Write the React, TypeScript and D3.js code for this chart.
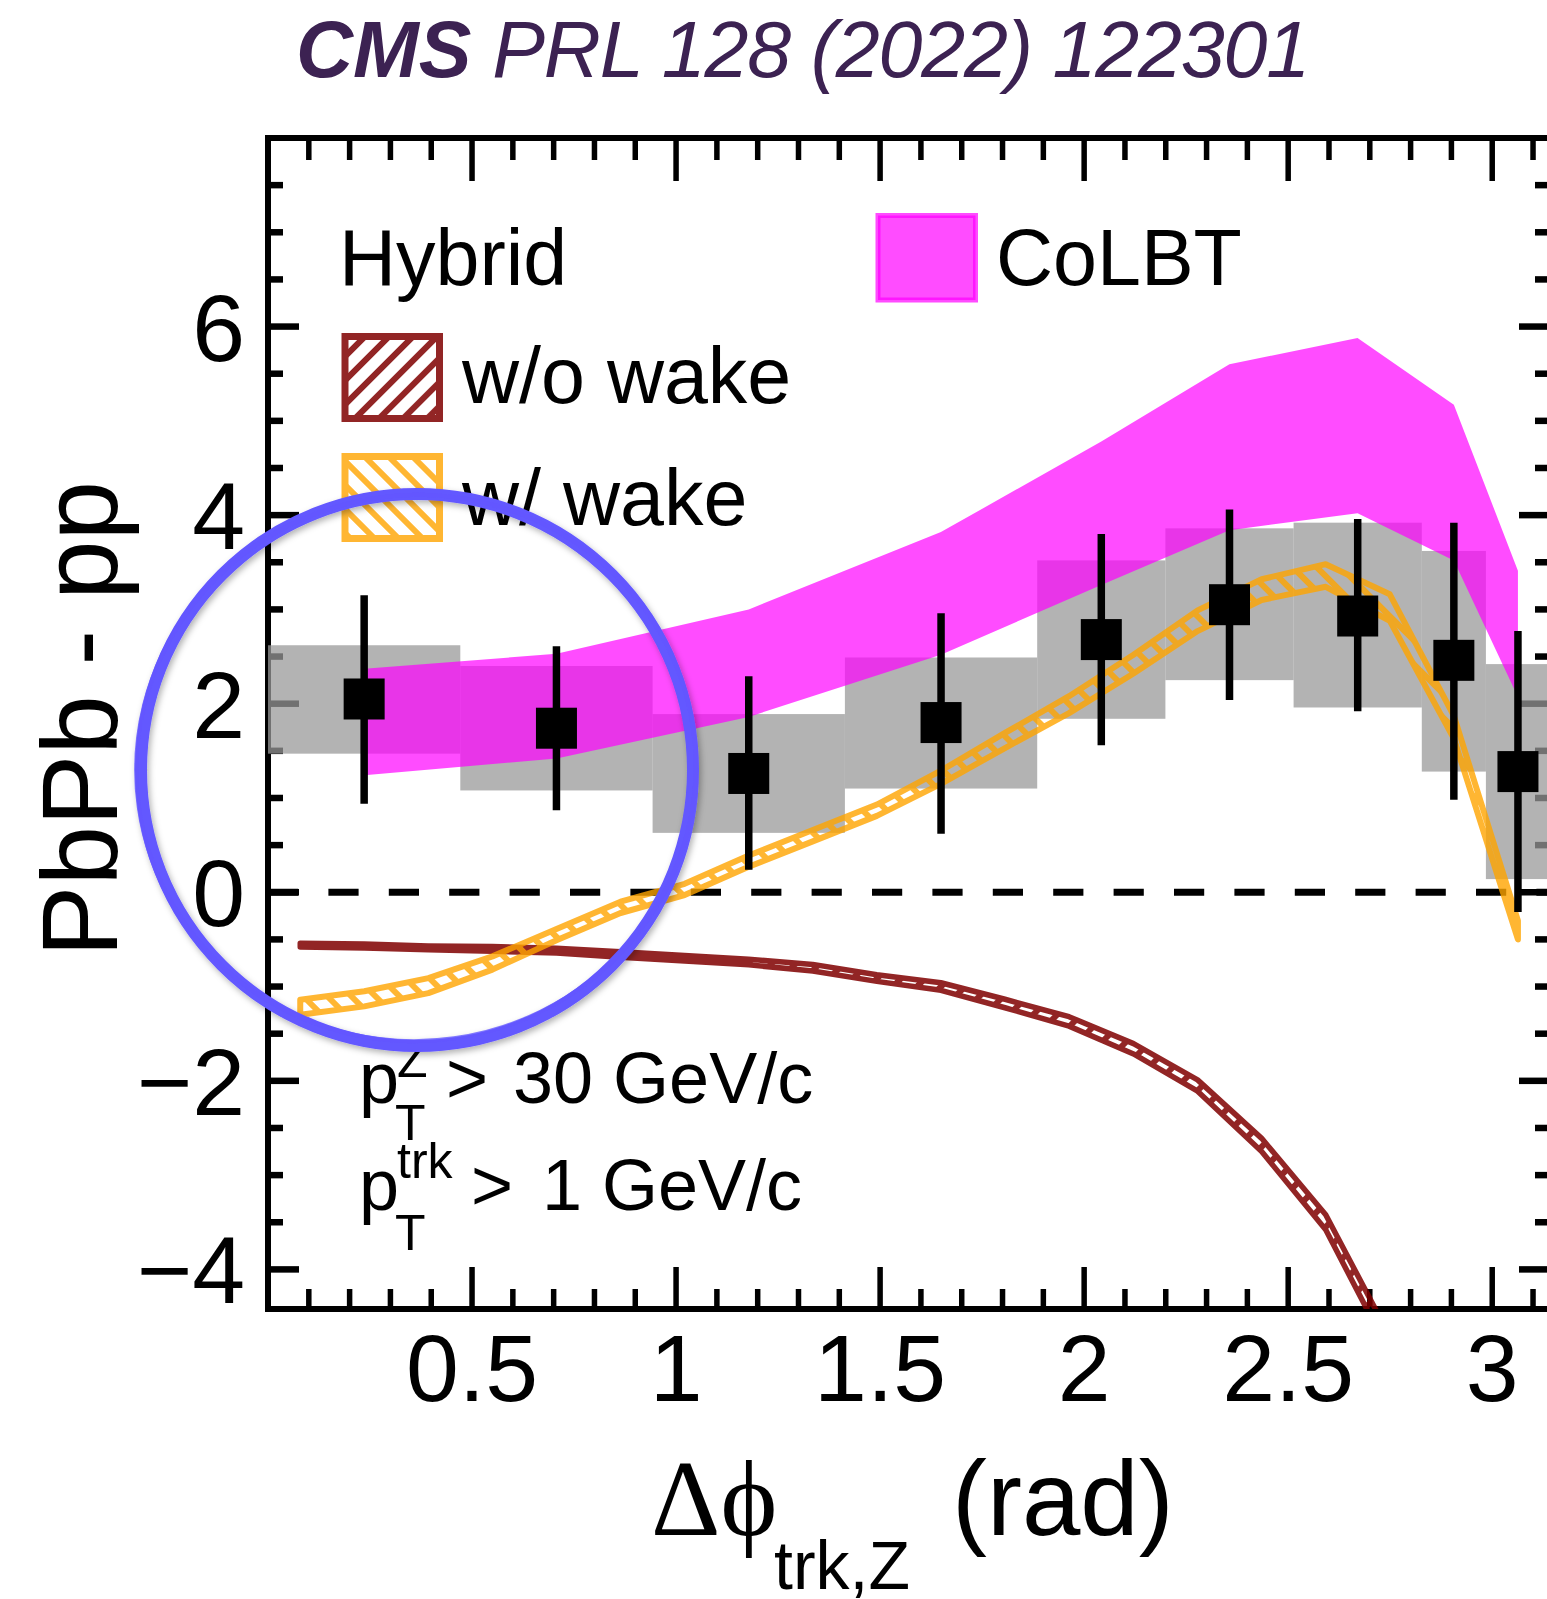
import React from 'react';
import * as d3 from 'd3';

const W = 1547;
const H = 1599;
const PI = Math.PI;

// measured bins, in units of pi/20
const binEdgeK = [0, 3, 6, 9, 12, 14, 16, 18, 19, 20];
const dataY = [2.05, 1.74, 1.26, 1.80, 2.68, 3.05, 2.93, 2.46, 1.28];
const statHi = [3.15, 2.61, 2.29, 2.96, 3.80, 4.06, 3.96, 3.92, 2.77];
const statLo = [0.94, 0.87, 0.24, 0.62, 1.56, 2.04, 1.92, 0.98, -0.21];
const sysHi = [2.62, 2.40, 1.89, 2.49, 3.52, 3.86, 3.92, 3.62, 2.42];
const sysLo = [1.47, 1.08, 0.63, 1.10, 1.84, 2.25, 1.96, 1.28, 0.14];

// CoLBT band at the bin centres
const colbtX = [0.236, 0.707, 1.178, 1.649, 2.042, 2.356, 2.670, 2.906, 3.063];
const colbtHi = [2.37, 2.53, 3.00, 3.82, 4.78, 5.60, 5.88, 5.17, 3.41];
const colbtLo = [1.24, 1.42, 1.86, 2.52, 3.26, 3.84, 4.02, 3.52, 2.07];

// Hybrid model
const hybX = [0.079, 0.236, 0.393, 0.550, 0.707, 0.864, 1.021, 1.178, 1.335, 1.492,
  1.649, 1.806, 1.963, 2.121, 2.278, 2.435, 2.592, 2.749, 2.906, 3.063];
const woWakeHi = [-0.54, -0.55, -0.57, -0.575, -0.595, -0.63, -0.67, -0.71, -0.765, -0.875,
  -0.96, -1.135, -1.32, -1.605, -1.99, -2.61, -3.42, -4.71];
const woWakeLo = [-0.58, -0.59, -0.61, -0.625, -0.645, -0.69, -0.73, -0.77, -0.835, -0.945,
  -1.04, -1.225, -1.42, -1.715, -2.11, -2.75, -3.58, -4.89];
const wWakeHi = [-1.14, -1.05, -0.91, -0.68, -0.39, -0.10, 0.09, 0.39, 0.66, 0.93,
  1.29, 1.69, 2.08, 2.52, 2.99, 3.32, 3.48, 3.16, 1.87, -0.30];
const wWakeLo = [-1.30, -1.21, -1.07, -0.82, -0.51, -0.22, -0.03, 0.27, 0.54, 0.81,
  1.15, 1.53, 1.90, 2.32, 2.77, 3.10, 3.24, 2.88, 1.63, -0.50];

const xMajor = [0.5, 1, 1.5, 2, 2.5, 3];
const yMajor = [-4, -2, 0, 2, 4, 6];

const sans = 'Liberation Sans, Arial, Helvetica, sans-serif';
const serif = 'Liberation Serif, DejaVu Serif, Times New Roman, serif';

const GRAY = 'rgba(152,152,152,0.74)';
const MAGENTA = 'rgba(255,0,255,0.7)';
const DARKRED = '#800000';
const ORANGE = '#ffa500';

export default function App() {
  const x = d3.scaleLinear().domain([0, PI]).range([268, 1550]);
  const y = d3.scaleLinear().domain([-4.42, 8]).range([1309, 138]);
  const [x0, x1] = x.range();
  const [yb, yt] = y.range();

  const xMinor = d3.range(1, 32).map(i => i / 10).filter(v => v < PI && Math.abs(v * 2 - Math.round(v * 2)) > 1e-6);
  const yMinor = d3.range(-8, 16).map(i => i / 2).filter(v => v % 2 !== 0 && v > -4.42 && v < 8);

  const edges = binEdgeK.map(k => (k * PI) / 20);
  const centers = edges.slice(0, -1).map((e, i) => (e + edges[i + 1]) / 2);

  const band = (xs: number[], lo: number[], hi: number[]) =>
    d3.area<number>()
      .x((_, i) => x(xs[i]))
      .y0((_, i) => y(lo[i]))
      .y1((_, i) => y(hi[i]))(lo) as string;

  const colbtPath = band(colbtX, colbtLo, colbtHi);
  const woPath = band(hybX, woWakeLo, woWakeHi);
  const wPath = band(hybX, wWakeLo, wWakeHi);

  return (
    <svg width={W} height={H} viewBox={`0 0 ${W} ${H}`}
      style={{ position: 'absolute', left: 0, top: 0, background: '#fff', overflow: 'hidden' }}>
      <defs>
        <clipPath id="plot">
          <rect x={x0} y={yt} width={x1 - x0} height={yb - yt} />
        </clipPath>
        <pattern id="hatchRed" patternUnits="userSpaceOnUse" width={17} height={17} patternTransform="rotate(45)">
          <rect x={0} y={0} width={6} height={17} fill={DARKRED} />
        </pattern>
        <pattern id="hatchOrange" patternUnits="userSpaceOnUse" width={17} height={17} patternTransform="rotate(-45)">
          <rect x={0} y={0} width={6} height={17} fill={ORANGE} />
        </pattern>
        <filter id="shadow" x="-20%" y="-20%" width="140%" height="140%">
          <feDropShadow dx={2} dy={3} stdDeviation={3} floodColor="#000" floodOpacity={0.3} />
        </filter>
      </defs>

      {/* title */}
      <text x={296} y={77} fontFamily={sans} fontSize={79} fill="#3c2252" fontStyle="italic">
        <tspan fontWeight="bold">CMS</tspan>
        <tspan letterSpacing={-1.2}> PRL 128 (2022) 122301</tspan>
      </text>

      {/* frame and ticks */}
      <g stroke="#000" fill="none">
        <rect x={x0} y={yt} width={x1 - x0} height={yb - yt} strokeWidth={6} />
        {xMajor.map(v => (
          <g key={'xM' + v} strokeWidth={5.5}>
            <line x1={x(v)} x2={x(v)} y1={yb} y2={yb - 42} />
            <line x1={x(v)} x2={x(v)} y1={yt} y2={yt + 43} />
          </g>
        ))}
        {xMinor.map(v => (
          <g key={'xm' + v} strokeWidth={5.5}>
            <line x1={x(v)} x2={x(v)} y1={yb} y2={yb - 20} />
            <line x1={x(v)} x2={x(v)} y1={yt} y2={yt + 22} />
          </g>
        ))}
        {yMajor.map(v => (
          <g key={'yM' + v} strokeWidth={6.5}>
            <line x1={x0} x2={x0 + 31} y1={y(v)} y2={y(v)} />
            <line x1={x1} x2={x1 - 31} y1={y(v)} y2={y(v)} />
          </g>
        ))}
        {yMinor.map(v => (
          <g key={'ym' + v} strokeWidth={6.5}>
            <line x1={x0} x2={x0 + 15} y1={y(v)} y2={y(v)} />
            <line x1={x1} x2={x1 - 15} y1={y(v)} y2={y(v)} />
          </g>
        ))}
      </g>

      {/* zero line */}
      <line x1={x0} x2={x1} y1={y(0)} y2={y(0)} stroke="#000" strokeWidth={7} strokeDasharray="30.2 30.2" />

      <g clipPath="url(#plot)">
        {/* systematic boxes */}
        {centers.map((c, i) => (
          <rect key={'sys' + i} x={x(edges[i])} width={x(edges[i + 1]) - x(edges[i])}
            y={y(sysHi[i])} height={y(sysLo[i]) - y(sysHi[i])} fill={GRAY} />
        ))}

        {/* CoLBT */}
        <path d={colbtPath} fill={MAGENTA} />

        {/* Hybrid */}
        <g opacity={0.85}>
          <path d={woPath} fill="url(#hatchRed)" stroke={DARKRED} strokeWidth={5.5} strokeLinejoin="round" />
        </g>
        <g opacity={0.8}>
          <path d={wPath} fill="url(#hatchOrange)" stroke={ORANGE} strokeWidth={6} strokeLinejoin="round" />
        </g>

        {/* data */}
        {centers.map((c, i) => (
          <g key={'pt' + i}>
            <line x1={x(c)} x2={x(c)} y1={y(statHi[i])} y2={y(statLo[i])} stroke="#000" strokeWidth={7.5} />
            <rect x={x(c) - 20.5} y={y(dataY[i]) - 20.5} width={41} height={41} fill="#000" />
          </g>
        ))}
      </g>

      {/* tick labels */}
      <g fontFamily={sans} fontSize={95} fill="#000">
        {xMajor.map(v => (
          <text key={'xl' + v} x={x(v)} y={1401} textAnchor="middle">{String(v)}</text>
        ))}
        {yMajor.map(v => (
          <text key={'yl' + v} x={245} y={y(v) + 34} textAnchor="end">{v < 0 ? '\u2212' + Math.abs(v) : String(v)}</text>
        ))}
      </g>

      {/* axis titles */}
      <text transform="translate(117,719) rotate(-90)" textAnchor="middle" fontFamily={sans} fontSize={107}>PbPb - pp</text>
      <text x={651} y={1535} fontFamily={serif} fontSize={108}>Δϕ</text>
      <text x={774} y={1589} fontFamily={sans} fontSize={68}>trk,Z</text>
      <text x={952} y={1535} fontFamily={sans} fontSize={105}>(rad)</text>

      {/* legend */}
      <g fontFamily={sans} fontSize={79} fill="#000">
        <text x={339} y={285}>Hybrid</text>
        <g opacity={0.85}>
          <rect x={345} y={336.5} width={94.5} height={82} fill="url(#hatchRed)" stroke={DARKRED} strokeWidth={7} />
        </g>
        <text x={462} y={403}>w/o wake</text>
        <g opacity={0.8}>
          <rect x={345} y={456.5} width={94.5} height={82} fill="url(#hatchOrange)" stroke={ORANGE} strokeWidth={7} />
        </g>
        <text x={462} y={525}>w/ wake</text>
        <rect x={878} y={215.5} width={97.5} height={84.5} fill={MAGENTA} stroke={MAGENTA} strokeWidth={5} />
        <text x={996} y={285}>CoLBT</text>
      </g>

      {/* kinematic selection */}
      <g fontFamily={sans} fill="#000">
        <text x={359} y={1103} fontSize={72}>p</text>
        <text x={395} y={1140} fontSize={50}>T</text>
        <text x={397} y={1077} fontSize={50}>Z</text>
        <text x={446} y={1103} fontSize={72}>&gt;</text>
        <text x={513} y={1103} fontSize={72}>30 GeV/c</text>
        <text x={359} y={1210} fontSize={72}>p</text>
        <text x={395} y={1250} fontSize={50}>T</text>
        <text x={397} y={1178} fontSize={50}>trk</text>
        <text x={471} y={1210} fontSize={72}>&gt;</text>
        <text x={542} y={1210} fontSize={72}>1 GeV/c</text>
      </g>

      {/* hand-drawn circle */}
      <g fill="none" stroke="#6358ff" filter="url(#shadow)">
        <ellipse cx={417} cy={770} rx={276} ry={276} strokeWidth={12} />
        <ellipse cx={416} cy={768} rx={280} ry={273} strokeWidth={4} opacity={0.8} transform="rotate(-8 416 768)" />
      </g>
    </svg>
  );
}
